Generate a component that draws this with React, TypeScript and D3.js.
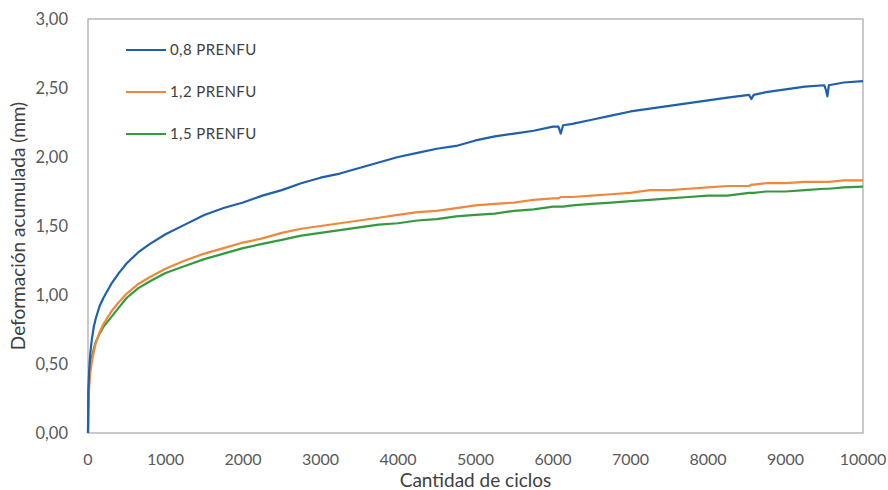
import React, { useRef, useEffect } from "react";
import * as d3 from "d3";

// cycles sampled along the test (denser at start and around the blue dips)
const cycles = [
  0, 5, 15, 30, 50, 75, 100, 150, 200, 300, 400, 500, 650, 800, 1000, 1250, 1500, 1750, 2000, 2250,
  2500, 2750, 3000, 3250, 3500, 3750, 4000, 4250, 4500, 4750, 5000, 5250, 5500, 5750, 6000, 6070,
  6100, 6130, 6250, 6500, 6750, 7000, 7250, 7500, 7750, 8000, 8250, 8530, 8560, 8590, 8750, 9000,
  9250, 9500, 9520, 9540, 9560, 9750, 10000,
];

const prenfu08 = [
  0, 0.3, 0.46, 0.58, 0.68, 0.77, 0.83, 0.92, 0.98, 1.08, 1.16, 1.23, 1.31, 1.37, 1.44, 1.51, 1.58,
  1.63, 1.67, 1.72, 1.76, 1.81, 1.85, 1.88, 1.92, 1.96, 2.0, 2.03, 2.06, 2.08, 2.12, 2.15, 2.17, 2.19,
  2.22, 2.22, 2.17, 2.23, 2.24, 2.27, 2.3, 2.33, 2.35, 2.37, 2.39, 2.41, 2.43, 2.45, 2.42, 2.45, 2.47,
  2.49, 2.51, 2.52, 2.49, 2.44, 2.52, 2.54, 2.55,
];

const prenfu12 = [
  0, 0.18, 0.33, 0.44, 0.52, 0.59, 0.65, 0.73, 0.79, 0.88, 0.95, 1.01, 1.08, 1.13, 1.19, 1.25, 1.3,
  1.34, 1.38, 1.41, 1.45, 1.48, 1.5, 1.52, 1.54, 1.56, 1.58, 1.6, 1.61, 1.63, 1.65, 1.66, 1.67, 1.69,
  1.7, 1.7, 1.71, 1.71, 1.71, 1.72, 1.73, 1.74, 1.76, 1.76, 1.77, 1.78, 1.79, 1.79, 1.8, 1.8, 1.81,
  1.81, 1.82, 1.82, 1.82, 1.82, 1.82, 1.83, 1.83,
];

const prenfu15 = [
  0, 0.28, 0.4, 0.48, 0.55, 0.61, 0.66, 0.72, 0.77, 0.84, 0.91, 0.98, 1.05, 1.1, 1.16, 1.21, 1.26,
  1.3, 1.34, 1.37, 1.4, 1.43, 1.45, 1.47, 1.49, 1.51, 1.52, 1.54, 1.55, 1.57, 1.58, 1.59, 1.61, 1.62,
  1.64, 1.64, 1.64, 1.64, 1.65, 1.66, 1.67, 1.68, 1.69, 1.7, 1.71, 1.72, 1.72, 1.74, 1.74, 1.74, 1.75,
  1.75, 1.76, 1.77, 1.77, 1.77, 1.77, 1.78, 1.785,
];

const seriesNames = ["0,8 PRENFU", "1,2 PRENFU", "1,5 PRENFU"];
const seriesColors = ["#1f5fab", "#f0873a", "#35993d"];
const xTicks = [0, 1000, 2000, 3000, 4000, 5000, 6000, 7000, 8000, 9000, 10000];
const yTicks = [0, 0.5, 1, 1.5, 2, 2.5, 3];

const App = () => {
  const svgRef = useRef<SVGSVGElement>(null);

  useEffect(() => {
    const svg = d3.select(svgRef.current);
    svg.selectAll("*").remove();

    const width = 888;
    const height = 490;
    const marginLeft = 88;
    const marginRight = 25;
    const marginTop = 19;
    const marginBottom = 57;
    const font = "Lato, sans-serif";
    const textColor = "#595959";

    const x = d3.scaleLinear().domain([0, 10000]).range([marginLeft, width - marginRight]);
    const y = d3.scaleLinear().domain([0, 3]).range([height - marginBottom, marginTop]);

    // plot frame
    svg.append("rect")
      .attr("x", x(0))
      .attr("y", y(3))
      .attr("width", x(10000) - x(0))
      .attr("height", y(0) - y(3))
      .attr("fill", "none")
      .attr("stroke", "#a6a6a6")
      .attr("stroke-width", 1.2);

    // y tick labels
    svg.append("g")
      .selectAll("text")
      .data(yTicks)
      .join("text")
      .attr("x", 68)
      .attr("y", d => y(d))
      .attr("dy", "0.35em")
      .attr("text-anchor", "end")
      .attr("font-family", font)
      .attr("font-size", 16.5)
      .attr("fill", textColor)
      .text(d => d3.format(".2f")(d).replace(".", ","));

    // x tick labels
    svg.append("g")
      .selectAll("text")
      .data(xTicks)
      .join("text")
      .attr("x", d => x(d))
      .attr("y", 465)
      .attr("text-anchor", "middle")
      .attr("font-family", font)
      .attr("font-size", 16)
      .attr("fill", textColor)
      .text(d => String(d));

    // axis titles
    svg.append("text")
      .attr("x", (x(0) + x(10000)) / 2)
      .attr("y", 487)
      .attr("text-anchor", "middle")
      .attr("font-family", font)
      .attr("font-size", 19)
      .attr("fill", "#404040")
      .text("Cantidad de ciclos");

    svg.append("text")
      .attr("transform", `translate(25,${(y(0) + y(3)) / 2}) rotate(-90)`)
      .attr("text-anchor", "middle")
      .attr("font-family", font)
      .attr("font-size", 19)
      .attr("fill", "#404040")
      .text("Deformación acumulada (mm)");

    // series lines
    const seriesValues = [prenfu08, prenfu12, prenfu15];
    const line = d3.line<number>()
      .x((_, i) => x(cycles[i]))
      .y(d => y(d));

    svg.append("g")
      .selectAll("path")
      .data(seriesValues.slice().reverse())
      .join("path")
      .attr("d", d => line(d))
      .attr("fill", "none")
      .attr("stroke", (_, i) => seriesColors[2 - i])
      .attr("stroke-width", 2.2)
      .attr("stroke-linejoin", "round");

    // legend
    const legend = svg.append("g")
      .selectAll("g")
      .data(seriesNames)
      .join("g")
      .attr("transform", (_, i) => `translate(126,${50 + i * 42})`);

    legend.append("line")
      .attr("x1", 0)
      .attr("x2", 40)
      .attr("stroke", (_, i) => seriesColors[i])
      .attr("stroke-width", 2.2);

    legend.append("text")
      .attr("x", 44)
      .attr("dy", "0.35em")
      .attr("font-family", font)
      .attr("font-size", 15)
      .attr("letter-spacing", 0.4)
      .attr("fill", "#404040")
      .text(d => d);
  }, []);

  return (
    <svg
      ref={svgRef}
      width={888}
      height={490}
      style={{ position: "absolute", left: 0, top: 0, background: "#fff" }}
    />
  );
};

export default App;
